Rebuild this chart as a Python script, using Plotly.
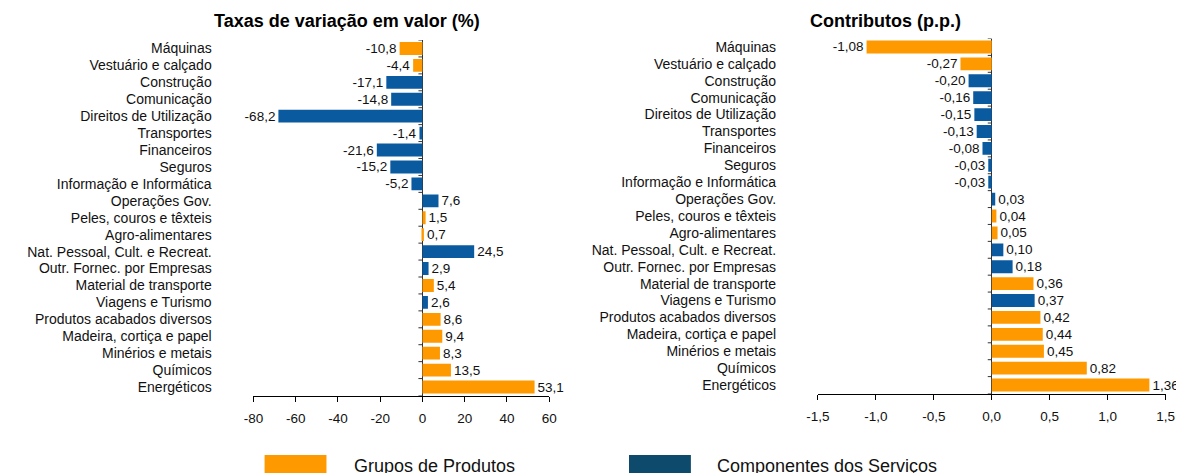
import plotly.graph_objects as go

# ---------------- data ----------------
categories = [
    "Máquinas", "Vestuário e calçado", "Construção", "Comunicação",
    "Direitos de Utilização", "Transportes", "Financeiros", "Seguros",
    "Informação e Informática", "Operações Gov.", "Peles, couros e têxteis",
    "Agro-alimentares", "Nat. Pessoal, Cult. e Recreat.",
    "Outr. Fornec. por Empresas", "Material de transporte", "Viagens e Turismo",
    "Produtos acabados diversos", "Madeira, cortiça e papel",
    "Minérios e metais", "Químicos", "Energéticos",
]
# G = Grupos de Produtos, S = Componentes dos Serviços
group = ["G", "G", "S", "S", "S", "S", "S", "S", "S", "S", "G",
         "G", "S", "S", "G", "S", "G", "G", "G", "G", "G"]
taxas = [-10.8, -4.4, -17.1, -14.8, -68.2, -1.4, -21.6, -15.2, -5.2, 7.6, 1.5,
         0.7, 24.5, 2.9, 5.4, 2.6, 8.6, 9.4, 8.3, 13.5, 53.1]
contributos = [-1.08, -0.27, -0.20, -0.16, -0.15, -0.13, -0.08, -0.03, -0.03, 0.03, 0.04,
               0.05, 0.10, 0.18, 0.36, 0.37, 0.42, 0.44, 0.45, 0.82, 1.36]

left_ticks = [-80, -60, -40, -20, 0, 20, 40, 60]
left_ticktext = ["-80", "-60", "-40", "-20", "0", "20", "40", "60"]
right_ticks = [-1.5, -1.0, -0.5, 0.0, 0.5, 1.0, 1.5]
right_ticktext = ["-1,5", "-1,0", "-0,5", "0,0", "0,5", "1,0", "1,5"]

title_left = "Taxas de variação em valor (%)"
title_right = "Contributos (p.p.)"
legend_names = {"G": "Grupos de Produtos", "S": "Componentes dos Serviços"}

# ---------------- styles ----------------
ORANGE = "#FF9900"
BLUE = "#0A5AA0"
LEG_BLUE = "#0E4A6B"
FONT = "Liberation Sans, Arial, sans-serif"
W, H = 1184, 473
OFF = 8  # page body margin

def px_x(p):
    return (p - OFF) / W

def px_y(p):
    return 1 - (p - OFF) / H

colors = [ORANGE if g == "G" else BLUE for g in group]
ypos = list(range(len(categories)))
n = len(categories)

fig = go.Figure()

fig.add_trace(go.Bar(
    x=taxas, y=ypos, orientation="h", marker=dict(color=colors, line=dict(width=0)),
    text=[f"{v:.1f}".replace(".", ",") for v in taxas], textposition="outside",
    textfont=dict(family=FONT, size=13.5, color="#111"), constraintext="none",
    cliponaxis=False, xaxis="x", yaxis="y", showlegend=False, hoverinfo="skip",
))
fig.add_trace(go.Bar(
    x=contributos, y=ypos, orientation="h", marker=dict(color=colors, line=dict(width=0)),
    text=[f"{v:.2f}".replace(".", ",") for v in contributos], textposition="outside",
    textfont=dict(family=FONT, size=13.5, color="#111"), constraintext="none",
    cliponaxis=False, xaxis="x2", yaxis="y2", showlegend=False, hoverinfo="skip",
))

L_dom = [px_x(245.7), px_x(546.7)]
R_dom = [px_x(820.3), px_x(1174.3)]
L_ydom = [px_y(395.5), px_y(40)]
R_ydom = [px_y(393.5), px_y(38.5)]
L_range = [-80, 60]
R_range = [-1.5, 1.5]

yrange = [n - 0.5, -0.5]
boundaries = [i - 0.5 for i in range(n + 1)]

axis_font = dict(family=FONT, size=13.5, color="#111")

common_x = dict(showgrid=False, zeroline=True, zerolinecolor="#333", zerolinewidth=1,
                showline=True, linecolor="#000",
                linewidth=1, ticks="outside", ticklen=5, tickcolor="#000",
                ticklabelstandoff=5, tickfont=axis_font, fixedrange=True)

label_y = dict(showgrid=False, zeroline=False, showline=False, range=yrange,
               tickmode="array", tickvals=ypos, ticktext=categories,
               ticks="outside", ticklen=38, tickcolor="rgba(0,0,0,0)",
               tickfont=dict(family=FONT, size=14, color="#111"))

fig.update_layout(
    width=W, height=H, margin=dict(l=0, r=0, t=0, b=0),
    paper_bgcolor="white", plot_bgcolor="white",
    bargap=0.24, showlegend=False,
    font=dict(family=FONT, color="#111"),
    xaxis=dict(domain=L_dom, range=L_range, anchor="y", tickmode="array",
               tickvals=left_ticks, ticktext=left_ticktext, **common_x),
    yaxis=dict(domain=L_ydom, anchor="x", **label_y),
    xaxis2=dict(domain=R_dom, range=R_range, anchor="y2", tickmode="array",
                tickvals=right_ticks, ticktext=right_ticktext, **common_x),
    yaxis2=dict(domain=R_ydom, anchor="x2", **label_y),
)

# category boundary tick marks on the vertical (zero) axis
for xr, yr in (("x", "y"), ("x2", "y2")):
    for b in boundaries:
        fig.add_shape(type="line", xref=xr, yref=yr, xsizemode="pixel", xanchor=0,
                      x0=-4, x1=0, y0=b, y1=b, line=dict(color="#333", width=1))

# titles
fig.add_annotation(text=f"<b>{title_left}</b>", xref="paper", yref="paper",
                   x=px_x(341), y=px_y(21), xanchor="center", yanchor="middle",
                   showarrow=False, font=dict(family=FONT, size=18, color="#000"))
fig.add_annotation(text=f"<b>{title_right}</b>", xref="paper", yref="paper",
                   x=px_x(889), y=px_y(21), xanchor="center", yanchor="middle",
                   showarrow=False, font=dict(family=FONT, size=18, color="#000"))

# custom legend
legend_items = [("G", ORANGE, 257, 346), ("S", LEG_BLUE, 628, 716)]
for key, col, sx, tx in legend_items:
    fig.add_shape(type="rect", xref="paper", yref="paper",
                  x0=px_x(sx), x1=px_x(sx + 63), y0=px_y(490), y1=px_y(455),
                  fillcolor=col, line=dict(width=0))
    fig.add_annotation(text=legend_names[key], xref="paper", yref="paper",
                       x=px_x(tx), y=px_y(466), xanchor="left", yanchor="middle",
                       showarrow=False, font=dict(family=FONT, size=18, color="#111"))

fig.write_html("out.html")
